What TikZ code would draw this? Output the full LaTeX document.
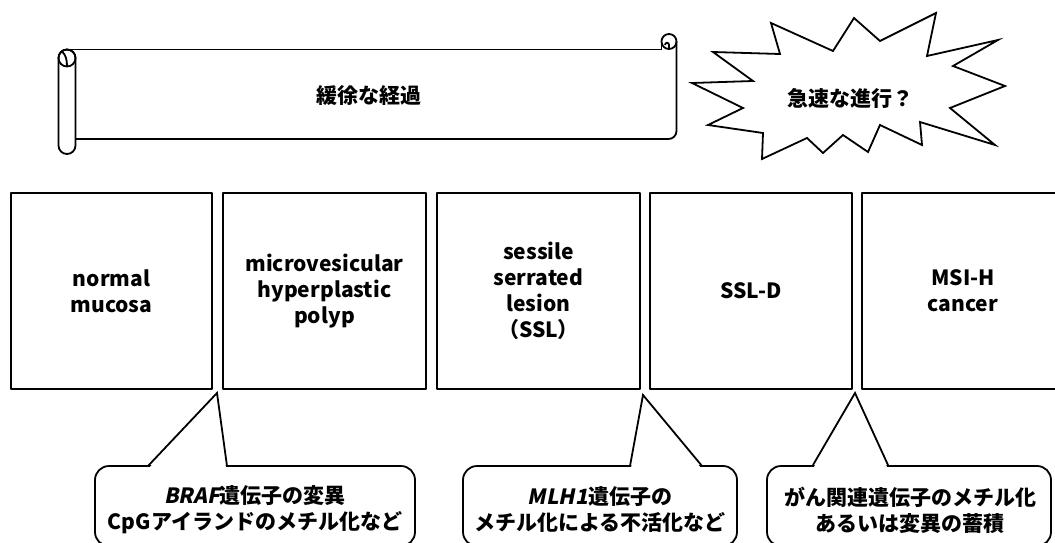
\documentclass[tikz,border=0pt]{standalone}
\usepackage{fontspec}
\setmainfont{Noto Sans CJK JP}
\newfontfamily\jpsl{Noto Sans CJK JP}[FakeSlant=0.2]
\begin{document}
\begin{tikzpicture}[x=1pt,y=-1pt,line width=1.8pt,line join=round,
  every node/.style={font=\fontsize{21}{26}\selectfont\bfseries,align=center},
  stage/.style={draw,minimum width=#1,minimum height=196,inner sep=0pt},
  callout/.style={draw,fill=white,rounded corners=14,minimum width=#1,minimum height=80,inner sep=0pt},
  pointer/.style={line join=miter}]
\useasboundingbox (0,0) rectangle (1055,543);
\clip (0,0) rectangle (1055,543);

% stage boxes
\node[stage=201] (b1) at (111.5,291) {normal\\mucosa};
\node[stage=203] (b2) at (324.5,291) {microvesicular\\hyperplastic\\polyp};
\node[stage=203] (b3) at (538.5,291) {sessile\\serrated\\lesion\\（SSL）};
\node[stage=202] (b4) at (751,291) {SSL-D};
\node[stage=202] (b5) at (963,291) {MSI-H\\cancer};

% scroll
\draw[rounded corners=8.5] (58.5,49.5) rectangle (75.5,154);
\draw (67,58) circle (8.5);
\draw (62,51.5) .. controls (66,55) and (67,60) .. (67,66.5);
\draw (67,49.5) -- (661.5,49.5);
\draw (669,41.5) circle (7.5);
\draw (661.5,41.5) -- (661.5,49.5);
\draw (669,49.5) -- (669,45) .. controls (669,42) and (665,42) .. (665,45);
\draw[rounded corners=8] (676.5,41.5) -- (676.5,139) -- (75.5,139);
\node (scrolltext) at (369,96) {緩徐な経過};

% explosion
\draw[fill=white,line join=miter] (692,83) -- (753,81) -- (713,52) -- (780,54) -- (771,23) -- (833,51)
  -- (854,18) -- (880,41) -- (936,13) -- (927,56) -- (998,40) -- (953,66) -- (1005,86)
  -- (950,108) -- (995,145) -- (920,122) -- (922,145) -- (880,125) -- (868,152)
  -- (843,135) -- (823,153) -- (807,138) -- (762,159) -- (763,133) -- (708,125)
  -- (743,108) -- cycle;
\node (bursttext) at (850,98) {急速な進行？};

% callouts
\node[callout=320] (c1) at (255,506) {};
\node[callout=274] (c2) at (600,506) {};
\node[callout=284] (c3) at (909,506) {};

\coordinate (t1) at (217,393);
\coordinate (t2) at (643,395);
\coordinate (t3) at (855,393);

\fill[white] (149,468) -- (t1) -- (226,468) -- cycle;
\draw[pointer] (148,466) -- (t1) -- (227,466);
\fill[white] (631,468) -- (t2) -- (701,468) -- cycle;
\draw[pointer] (630,466) -- (t2) -- (702,466);
\fill[white] (814,467) -- (t3) -- (887,467) -- cycle;
\draw[pointer] (813,465) -- (t3) -- (888,465);

\node (c1t) at (255,510) {{\jpsl BRAF}遺伝子の変異\\CpGアイランドのメチル化など};
\node (c2t) at (600,510) {{\jpsl MLH1}遺伝子の\\メチル化による不活化など};
\node (c3t) at (910,510) {がん関連遺伝子のメチル化\\あるいは変異の蓄積};
\end{tikzpicture}
\end{document}
